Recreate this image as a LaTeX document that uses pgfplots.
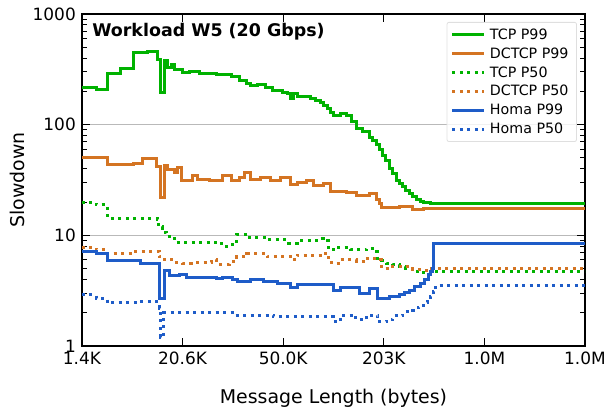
\documentclass[border=0pt]{standalone}
\usepackage{pgfplots}
\pgfplotsset{compat=1.18}
\usepackage{fontspec}
\setmainfont{DejaVu Sans}
\definecolor{cgreen}{RGB}{0,178,0}
\definecolor{corange}{RGB}{212,116,34}
\definecolor{cblue}{RGB}{30,92,200}
\begin{document}
\begin{tikzpicture}
\begin{axis}[
  scale only axis, width=503bp, height=332bp,
  at={(0,0)}, anchor=south west,
  xmin=0, xmax=5, ymode=log, ymin=1, ymax=1000,
  xtick={0,1,2,3,4,5},
  xticklabels={1.4K,20.6K,50.0K,203K,1.0M,1.0M},
  ytick={1,10,100,1000}, yticklabels={1,10,100,1000},
  minor ytick={2,3,4,5,6,7,8,9,20,30,40,50,60,70,80,90,200,300,400,500,600,700,800,900},
  tick align=inside, major tick length=8bp, minor tick length=5bp,
  tick style={black, line width=1bp},
  axis line style={black, line width=1.5bp},
  ymajorgrids, grid style={gray!55, line width=1bp},
  xticklabel style={font=\fontsize{17}{20}\selectfont, anchor=north, inner sep=0pt, yshift=-6bp},
  yticklabel style={font=\fontsize{17}{20}\selectfont, anchor=east, inner sep=0pt, xshift=-6bp},
  every axis x label/.style={at={(axis description cs:0.5,-0.172)}, anchor=base, font=\fontsize{19}{22}\selectfont},
  every axis y label/.style={at={(axis description cs:-0.129,0.5)}, rotate=90, anchor=center, font=\fontsize{19}{22}\selectfont},
  xlabel={Message Length (bytes)},
  ylabel={Slowdown},
  legend cell align=left,
  legend image code/.code={\draw[#1] (0bp,0bp) -- (32bp,0bp);},
  legend style={at={(0.984,0.976)}, anchor=north east, font=\fontsize{14.3}{16}\selectfont,
    draw=gray!25, line width=0.8bp, rounded corners=2bp, fill=white, fill opacity=0.8, text opacity=1,
    inner xsep=4bp, inner ysep=3bp, row sep=0pt,
    nodes={inner ysep=3.4bp, inner xsep=4bp}},
]
\addplot[const plot, cgreen, line width=3bp] coordinates {
(0,215) (0.14,209) (0.25,292) (0.38,325) (0.51,445) (0.65,460) (0.75,390) (0.78,196) (0.82,380)
(0.85,330) (0.89,347) (0.92,318) (1.00,299) (1.07,305) (1.17,292) (1.34,286) (1.49,270) (1.57,252)
(1.64,237) (1.67,228) (1.74,233) (1.82,218) (1.89,205) (1.99,197) (2.04,193) (2.07,174) (2.10,193)
(2.14,178) (2.27,174) (2.32,165) (2.37,157) (2.40,150) (2.44,141) (2.47,130) (2.50,120) (2.57,127)
(2.63,122) (2.68,106) (2.73,93) (2.79,86) (2.86,77) (2.89,72) (2.93,66) (2.96,60) (2.99,53) (3.02,47)
(3.06,40.5) (3.09,36) (3.13,31.6) (3.16,29.5) (3.19,27.5) (3.22,25.5) (3.26,24) (3.29,22.5) (3.33,21)
(3.36,20.2) (3.39,19.6) (3.46,19.2) (5,19.2)};
\addlegendentry{TCP P99}
\addplot[const plot, corange, line width=3bp] coordinates {
(0,51) (0.25,44) (0.51,45) (0.60,49) (0.74,41.5) (0.78,21.8) (0.82,43) (0.85,39) (0.92,37) (0.95,41)
(0.99,31.6) (1.10,35) (1.15,32) (1.27,31.6) (1.40,35) (1.49,31.6) (1.57,33.6) (1.62,37) (1.67,32)
(1.77,33.6) (1.87,31.6) (1.97,33) (2.07,29) (2.14,30) (2.23,31) (2.30,28) (2.40,29.5) (2.47,25)
(2.63,24.6) (2.73,23) (2.86,24) (2.93,21) (2.96,19.5) (2.98,18) (3.06,17.7) (3.16,18.4) (3.29,17) (3.39,17.6) (5,17.6)};
\addlegendentry{DCTCP P99}
\addplot[const plot, cgreen, line width=3bp, dash pattern=on 3bp off 4.5bp] coordinates {
(0,20) (0.14,18.8) (0.25,14.3) (0.75,14) (0.76,11.9) (0.80,10.7) (0.84,9.8) (0.92,8.7) (1.39,8.0)
(1.47,8.3) (1.54,10.2) (1.64,9.5) (1.84,9.1) (2.05,8.5) (2.14,8.9) (2.35,9.3) (2.40,8.9) (2.45,7.4)
(2.52,7.8) (2.67,7.4) (2.83,7.6) (2.91,7.1) (2.94,6.2) (2.98,5.9) (3.03,5.6) (3.09,5.4) (3.16,5.2)
(3.22,5.0) (3.29,4.75) (3.36,4.65) (3.43,4.55) (3.49,4.7) (5,4.7)};
\addlegendentry{TCP P50}
\addplot[const plot, corange, line width=3bp, dash pattern=on 3bp off 4.5bp] coordinates {
(0,7.8) (0.14,7.4) (0.25,6.9) (0.48,7.2) (0.77,6.4) (0.82,6.0) (0.92,5.7) (1.0,5.6) (1.09,5.7)
(1.29,6.0) (1.34,5.5) (1.47,5.8) (1.54,6.4) (1.64,6.8) (1.84,6.4) (2.09,6.0) (2.14,6.6) (2.40,6.9)
(2.45,5.7) (2.50,5.6) (2.57,6.0) (2.73,5.8) (2.81,6.2) (2.93,6.0) (2.98,5.0) (3.06,5.2) (3.29,4.9)
(3.39,4.8) (3.47,5.0) (5,5.0)};
\addlegendentry{DCTCP P50}
\addplot[const plot, cblue, line width=3bp] coordinates {
(0,7.1) (0.14,6.9) (0.25,5.9) (0.58,5.6) (0.77,2.7) (0.82,4.85) (0.87,4.3) (0.97,4.4) (1.04,4.2)
(1.34,4.1) (1.40,4.15) (1.50,3.95) (1.55,3.8) (1.67,4.0) (1.80,3.8) (1.94,3.7) (2.07,3.4) (2.14,3.6)
(2.50,3.2) (2.57,3.4) (2.67,3.35) (2.76,3.0) (2.86,3.3) (2.94,2.7) (3.06,2.8) (3.16,2.95) (3.21,3.05)
(3.26,3.2) (3.31,3.45) (3.36,3.7) (3.40,4.0) (3.44,4.4) (3.46,4.7) (3.48,5.0) (3.49,8.5) (5,8.5)};
\addlegendentry{Homa P99}
\addplot[const plot, cblue, line width=3bp, dash pattern=on 3bp off 4.5bp] coordinates {
(0,2.9) (0.14,2.7) (0.25,2.45) (0.55,2.5) (0.77,2.2) (0.78,1.2) (0.81,2.0) (1.51,1.9) (1.90,1.83)
(2.50,1.65) (2.57,1.9) (2.70,1.8) (2.76,1.72) (2.83,1.9) (2.94,1.65) (3.03,1.72) (3.09,1.87)
(3.19,2.03) (3.29,2.1) (3.34,2.25) (3.39,2.45) (3.43,2.6) (3.46,2.8) (3.49,3.1) (3.51,3.5) (5,3.5)};
\addlegendentry{Homa P50}
\node[anchor=north west, inner sep=0pt, font=\fontsize{17.5}{20}\selectfont\bfseries] at (axis description cs:0.02,0.972) {Workload W5 (20 Gbps)};
\end{axis}
\path[use as bounding box] (-82bp,-62bp) rectangle (524bp,346bp);
\end{tikzpicture}
\end{document}
